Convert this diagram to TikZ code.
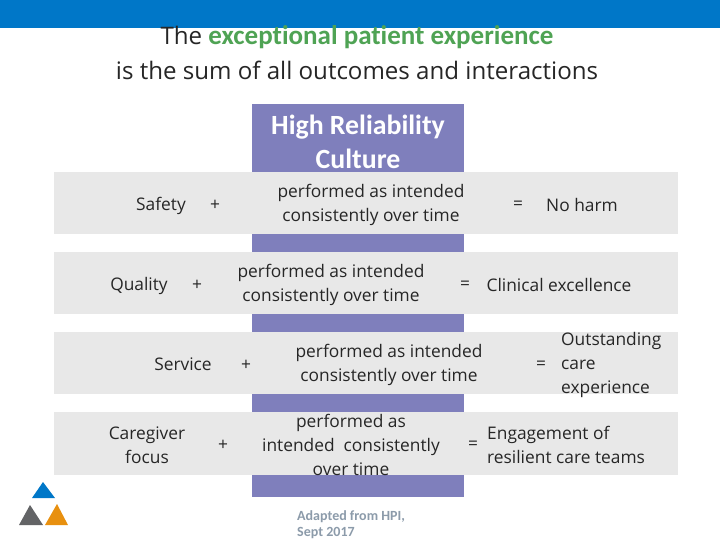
\documentclass[tikz,border=0pt]{standalone}
\usepackage{fontspec}
\setmainfont{Open Sans}
\newfontfamily\calfont[Ligatures=NoCommon]{Carlito}
\definecolor{barblue}{HTML}{0077C8}
\definecolor{purp}{HTML}{7F7FBC}
\definecolor{band}{HTML}{E8E8E8}
\definecolor{grn}{HTML}{4FA354}
\definecolor{ink}{HTML}{262626}
\definecolor{note}{HTML}{8C9BAA}
\definecolor{logoorange}{HTML}{E8900F}
\definecolor{logogray}{HTML}{636466}
\tikzset{
 x=1pt,y=-1pt,
 lab/.style={inner sep=0pt,text=ink,font=\fontsize{17.35}{24}\selectfont,align=center},
 labl/.style={lab,align=left,anchor=west},
 bandbox/.style={fill=band,draw=none},
 titletext/.style={inner sep=0pt,text=ink,font=\fontsize{24.1}{33}\selectfont},
}
\begin{document}
\begin{tikzpicture}
\useasboundingbox (0,0) rectangle (720,540);
\fill[white] (0,0) rectangle (720,540);
\fill[barblue] (0,0) rectangle (720,28);
\node[titletext] (t1) at (357,37) {The \textcolor{grn}{\calfont\fontsize{27}{33}\selectfont\bfseries exceptional patient experience}};
\node[titletext] (t2) at (357,70) {is the sum of all outcomes and interactions};
\fill[purp] (252,104) rectangle (464,497);
\node[inner sep=0pt,text=white,font=\calfont\fontsize{27.8}{34}\selectfont\bfseries,align=center] (hrc) at (358,142) {High Reliability\\Culture};
\fill[bandbox] (54,172) rectangle (678,234);
\fill[bandbox] (54,252) rectangle (678,314);
\fill[bandbox] (54,332) rectangle (678,394);
\fill[bandbox] (54,412) rectangle (678,475);
% row 1
\node[lab] (s1) at (161,205.5) {Safety};
\node[lab] (p1) at (215,205) {+};
\node[lab] (m1) at (371,205) {performed as intended\\consistently over time};
\node[lab] (e1) at (518,205) {=};
\node[lab] (r1) at (582,204.5) {No harm};
% row 2
\node[lab] (s2) at (139,285.5) {Quality};
\node[lab] (p2) at (197,285) {+};
\node[lab] (m2) at (331,285) {performed as intended\\consistently over time};
\node[lab] (e2) at (465,285) {=};
\node[lab] (r2) at (559,285) {Clinical excellence};
% row 3
\node[lab] (s3) at (183,364.5) {Service};
\node[lab] (p3) at (246,365) {+};
\node[lab] (m3) at (389,365) {performed as intended\\consistently over time};
\node[lab] (e3) at (541,365) {=};
\node[labl] (r3) at (561,365) {Outstanding\\care\\experience};
% row 4
\node[lab] (s4) at (147,445) {Caregiver\\focus};
\node[lab] (p4) at (223,445) {+};
\node[lab] (m4) at (351,445) {performed as\\intended\ \ consistently\\over time};
\node[lab] (e4) at (473,445) {=};
\node[labl] (r4) at (487,445) {Engagement of\\resilient care teams};
% note
\node[inner sep=0pt,anchor=west,align=left,text=note,font=\calfont\fontsize{14}{16}\selectfont\bfseries] (n) at (297,525) {Adapted from HPI,\\Sept 2017};
% logo
\fill[barblue] (43,482) -- (55,498) -- (32,498) -- cycle;
\fill[logogray] (30,505) -- (43,525) -- (19,525) -- cycle;
\fill[logoorange] (57,504) -- (68,525) -- (45,525) -- cycle;
\end{tikzpicture}
\end{document}
